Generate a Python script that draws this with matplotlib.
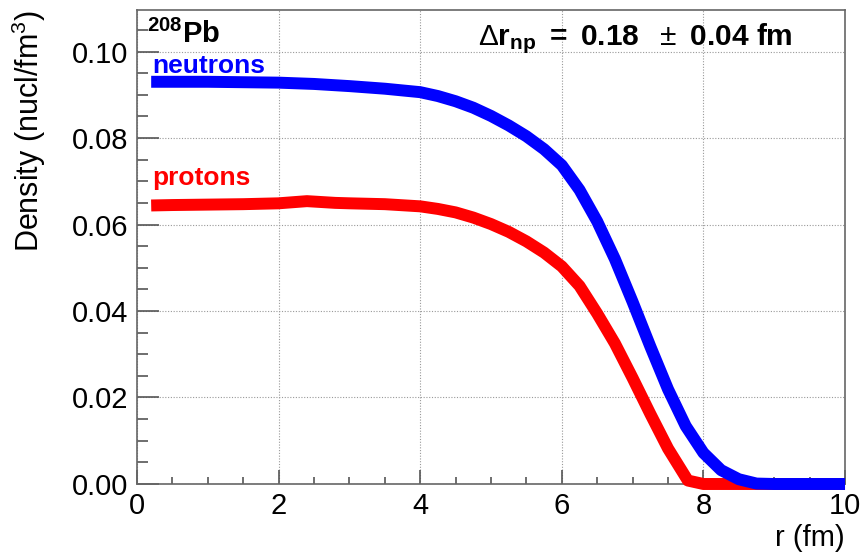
import matplotlib
matplotlib.use("Agg")
import matplotlib.pyplot as plt
from matplotlib.ticker import MultipleLocator, FormatStrFormatter

plt.rcParams['font.family'] = ['Liberation Sans', 'DejaVu Sans']
plt.rcParams['mathtext.fontset'] = 'custom'
plt.rcParams['mathtext.rm'] = 'Liberation Sans'
plt.rcParams['mathtext.bf'] = 'Liberation Sans:bold'
plt.rcParams['mathtext.it'] = 'Liberation Sans:italic'

# neutron density profile
r_n = [0.2, 0.5, 1.0, 1.5, 2.0, 2.5, 3.0, 3.5, 4.0, 4.25, 4.5, 4.75, 5.0,
       5.25, 5.5, 5.75, 6.0, 6.25, 6.5, 6.75, 7.0, 7.25, 7.5, 7.75, 8.0,
       8.25, 8.5, 8.75, 9.0, 9.5, 10.0]
rho_n = [0.0930, 0.0930, 0.0930, 0.0929, 0.0928, 0.0925, 0.0920, 0.0914,
         0.0906, 0.0897, 0.0885, 0.0870, 0.0851, 0.0829, 0.0804, 0.0774,
         0.0737, 0.0680, 0.0607, 0.0520, 0.0421, 0.0318, 0.0219, 0.0134,
         0.0072, 0.0032, 0.0011, 0.0001, 0.0, 0.0, 0.0]

# proton density profile
r_p = [0.2, 0.5, 1.0, 1.5, 2.0, 2.4, 2.8, 3.0, 3.5, 4.0, 4.25, 4.5, 4.75,
       5.0, 5.25, 5.5, 5.75, 6.0, 6.25, 6.5, 6.75, 7.0, 7.25, 7.5, 7.78,
       8.0, 8.5, 9.0, 10.0]
rho_p = [0.0644, 0.0645, 0.0646, 0.0647, 0.0649, 0.0654, 0.0650, 0.0649,
         0.0647, 0.0642, 0.0636, 0.0628, 0.0616, 0.0601, 0.0583, 0.0561,
         0.0535, 0.0503, 0.0458, 0.0394, 0.0325, 0.0245, 0.0162, 0.0082,
         0.0008, 0.0, 0.0, 0.0, 0.0]

fig = plt.figure(figsize=(8.65, 5.52), dpi=100)
ax = fig.add_axes([0.1584, 0.1232, 0.8185, 0.8587])

ax.plot(r_p, rho_p, color='#ff0000', lw=8.6, solid_capstyle='butt',
        solid_joinstyle='round', clip_on=False, zorder=3)
ax.plot(r_n, rho_n, color='#0000ff', lw=8.6, solid_capstyle='butt',
        solid_joinstyle='round', clip_on=False, zorder=4)

ax.set_xlim(0, 10)
ax.set_ylim(0, 0.1096)

ax.xaxis.set_major_locator(MultipleLocator(2))
ax.xaxis.set_minor_locator(MultipleLocator(0.5))
ax.yaxis.set_major_locator(MultipleLocator(0.02))
ax.yaxis.set_minor_locator(MultipleLocator(0.005))
ax.yaxis.set_major_formatter(FormatStrFormatter('%.2f'))

ax.tick_params(axis='both', which='both', direction='in', colors='#555555',
               labelcolor='black', labelsize=21, top=False, right=False)
ax.tick_params(axis='x', which='major', length=10, width=1.2, pad=6)
ax.tick_params(axis='x', which='minor', length=5, width=1.2)
ax.tick_params(axis='y', which='major', length=16, width=1.2, pad=6.5)
ax.tick_params(axis='y', which='minor', length=8, width=1.2)

for s in ax.spines.values():
    s.set_color('#666666')
    s.set_linewidth(1.2)

ax.grid(True, which='major', color='#999999', linestyle=(0, (1, 1.5)), lw=0.8)
ax.set_axisbelow(True)

ax.set_xlabel('r (fm)', fontsize=21, loc='right')
ax.xaxis.set_label_coords(1.0, -0.085)
ax.set_ylabel('Density (nucl/fm$^3$)', fontsize=22, loc='top')
ax.yaxis.set_label_coords(-0.126, 1.0)

ax.text(0.014, 0.930, r'$^{\mathbf{208}}\mathbf{Pb}$', transform=ax.transAxes,
        fontsize=21, ha='left', va='baseline')
ax.text(0.021, 0.867, 'neutrons', transform=ax.transAxes, fontsize=19,
        fontweight='bold', color='#0000ff', ha='left', va='baseline')
ax.text(0.021, 0.631, 'protons', transform=ax.transAxes, fontsize=19,
        fontweight='bold', color='#ff0000', ha='left', va='baseline')
ax.text(0.482, 0.926,
        r'$\Delta\mathbf{r}_{\mathbf{np}}\mathbf{\ =\ 0.18\ \ }\pm\mathbf{\ 0.04\ fm}$',
        transform=ax.transAxes, fontsize=21.5, ha='left', va='baseline')

fig.savefig('out.png', dpi=100)
